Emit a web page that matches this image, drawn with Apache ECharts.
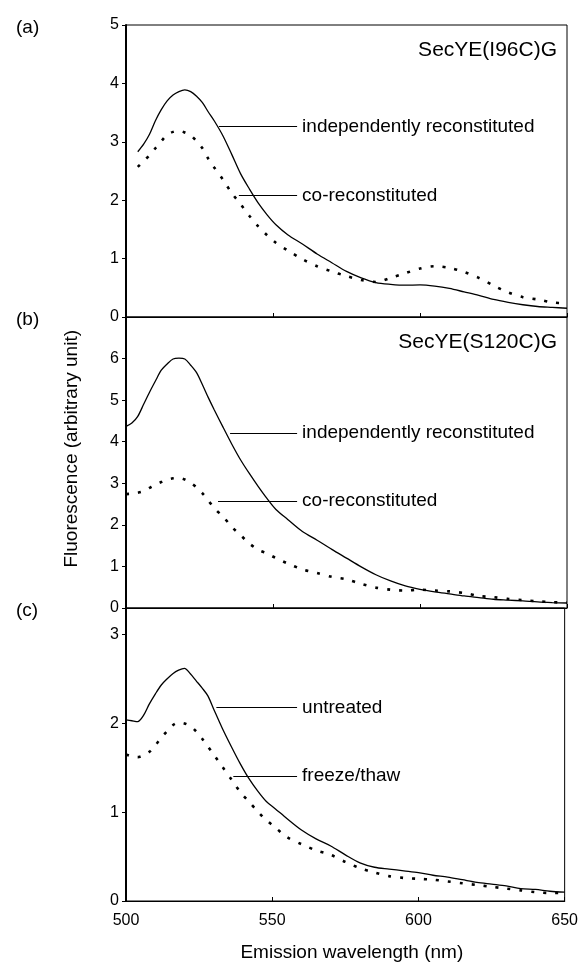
<!DOCTYPE html>
<html>
<head>
<meta charset="utf-8">
<script src="https://cdn.jsdelivr.net/npm/echarts@6/dist/echarts.min.js"></script>
<style>
  html, body { margin: 0; padding: 0; background: #fff; }
  #chart { width: 581px; height: 963px; }
</style>
</head>
<body>
<div id="chart"></div>
<script>
// emission wavelength (nm), shared by every trace
const wavelength = [500, 502, 504, 506, 508, 510, 512, 514, 516, 518, 520, 522, 524, 526, 528, 530,
  533, 536, 539, 542, 545, 548, 551, 555, 560, 565, 570, 575, 580, 585, 590, 595, 600, 605,
  610, 615, 620, 625, 630, 635, 640, 645, 650];

// (a) SecYE(I96C)G
const aIndependent = [null, null, 2.83, 2.96, 3.13, 3.36, 3.55, 3.70, 3.80, 3.86, 3.89, 3.86, 3.78, 3.67, 3.51, 3.36,
  3.10, 2.78, 2.45, 2.19, 1.95, 1.75, 1.58, 1.41, 1.25, 1.08, 0.93, 0.78, 0.67, 0.59, 0.56, 0.545, 0.55, 0.53,
  0.49, 0.43, 0.37, 0.30, 0.25, 0.21, 0.18, 0.165, 0.15];
const aCo = [null, null, 2.57, 2.67, 2.77, 2.89, 3.01, 3.12, 3.17, 3.19, 3.16, 3.11, 3.01, 2.89, 2.71, 2.56,
  2.35, 2.12, 1.93, 1.73, 1.55, 1.40, 1.27, 1.14, 0.99, 0.87, 0.78, 0.70, 0.635, 0.60, 0.67, 0.75, 0.83, 0.87,
  0.84, 0.77, 0.67, 0.54, 0.42, 0.34, 0.30, 0.25, 0.23];

// (b) SecYE(S120C)G
const bIndependent = [4.37, 4.45, 4.61, 4.90, 5.19, 5.46, 5.72, 5.87, 5.99, 6.01, 5.99, 5.84, 5.66, 5.37, 5.06, 4.77,
  4.35, 3.94, 3.56, 3.23, 2.92, 2.63, 2.37, 2.13, 1.84, 1.63, 1.41, 1.20, 0.99, 0.80, 0.65, 0.53, 0.45, 0.39,
  0.34, 0.29, 0.25, 0.21, 0.19, 0.17, 0.145, 0.13, 0.12];
const bCo = [2.74, 2.75, 2.77, 2.81, 2.89, 2.97, 3.03, 3.09, 3.12, 3.13, 3.09, 3.01, 2.90, 2.76, 2.59, 2.40,
  2.20, 1.95, 1.75, 1.55, 1.40, 1.31, 1.20, 1.07, 0.93, 0.84, 0.75, 0.69, 0.58, 0.49, 0.44, 0.42, 0.44, 0.42,
  0.40, 0.36, 0.29, 0.26, 0.22, 0.19, 0.16, 0.14, 0.13];

// (c) untreated vs freeze/thaw
const cUntreated = [2.04, 2.03, 2.02, 2.09, 2.22, 2.33, 2.43, 2.50, 2.56, 2.60, 2.62, 2.56, 2.48, 2.40, 2.31, 2.16,
  1.94, 1.74, 1.55, 1.38, 1.24, 1.12, 1.04, 0.93, 0.80, 0.70, 0.62, 0.52, 0.43, 0.38, 0.36, 0.34, 0.32, 0.29,
  0.27, 0.24, 0.21, 0.19, 0.17, 0.14, 0.13, 0.11, 0.10];
const cFreezeThaw = [1.65, 1.63, 1.62, 1.64, 1.68, 1.75, 1.84, 1.91, 1.98, 2.01, 2.00, 1.97, 1.91, 1.83, 1.74, 1.65,
  1.51, 1.37, 1.23, 1.12, 1.01, 0.91, 0.83, 0.72, 0.64, 0.57, 0.52, 0.44, 0.37, 0.32, 0.28, 0.26, 0.25, 0.24,
  0.22, 0.20, 0.18, 0.16, 0.14, 0.12, 0.10, 0.09, 0.09];

const panelLetters = ["(a)", "(b)", "(c)"];
const panelTitles = ["SecYE(I96C)G", "SecYE(S120C)G", ""];
const yMax = [5, 7, 3.3];
const xTitle = "Emission wavelength (nm)";
const yTitle = "Fluorescence (arbitrary unit)";

// leader lines: [label, y value, x start, x end]
const callouts = [
  [["independently reconstituted", 3.26, 531.6, 558.2], ["co-reconstituted", 2.08, 538.4, 558.2]],
  [["independently reconstituted", 4.21, 535.4, 558.2], ["co-reconstituted", 2.57, 531.3, 558.2]],
  [["untreated", 2.18, 530.9, 558.5], ["freeze/thaw", 1.41, 536.7, 558.5]]
];

const traces = [[aIndependent, aCo], [bIndependent, bCo], [cUntreated, cFreezeThaw]];

const FONT = "'Liberation Sans', Arial, sans-serif";
const gridTops = [25, 317, 608];
const gridHeights = [292, 291, 293];

function pairs(vals) {
  return wavelength.map((w, i) => [w, vals[i]]);
}

const grids = [], xAxes = [], yAxes = [], series = [], titles = [];

for (let p = 0; p < 3; p++) {
  grids.push({
    left: 126, right: 14, top: gridTops[p], height: gridHeights[p],
    show: true, borderColor: "#000", borderWidth: 1, backgroundColor: "transparent"
  });
  const last = p === 2;
  xAxes.push({
    type: "value", gridIndex: p, min: 500, max: 650, interval: 50,
    axisLine: { show: true, lineStyle: { color: "#000", width: 1.2 } },
    axisTick: { show: true, inside: true, length: 4, lineStyle: { color: "#000" } },
    axisLabel: { show: last, color: "#000", fontFamily: FONT, fontSize: 16, margin: 12 },
    splitLine: { show: false },
    name: last ? xTitle : "",
    nameLocation: "middle", nameGap: 42,
    nameTextStyle: { color: "#000", fontFamily: FONT, fontSize: 19, padding: [0, 0, 0, 13] }
  });
  yAxes.push({
    type: "value", gridIndex: p, min: 0, max: yMax[p], interval: 1,
    axisLine: { show: true, lineStyle: { color: "#000", width: 2 } },
    axisTick: { show: true, inside: false, length: 4, lineStyle: { color: "#000" } },
    axisLabel: { color: "#000", fontFamily: FONT, fontSize: 16, margin: 7, showMaxLabel: p === 0 },
    splitLine: { show: false }
  });

  const marks = callouts[p].map(c => [
    { coord: [c[2], c[1]], label: { formatter: c[0] } },
    { coord: [c[3], c[1]] }
  ]);

  series.push({
    type: "line", xAxisIndex: p, yAxisIndex: p, data: pairs(traces[p][0]),
    showSymbol: false, smooth: 0.3, animation: false,
    lineStyle: { color: "#000", width: 1.3, type: "solid" },
    markLine: {
      silent: true, animation: false, symbol: ["none", "none"],
      lineStyle: { color: "#000", width: 1, type: "solid" },
      label: { show: true, position: "end", distance: 5, color: "#000", fontFamily: FONT, fontSize: 19 },
      emphasis: { disabled: true },
      data: marks
    }
  });
  series.push({
    type: "line", xAxisIndex: p, yAxisIndex: p, data: pairs(traces[p][1]),
    showSymbol: false, smooth: 0.3, animation: false,
    lineStyle: { color: "#000", width: 2.6, type: [3, 9], cap: "butt" }
  });

  titles.push({
    text: panelLetters[p], left: 11, top: gridTops[p] - 12,
    textStyle: { color: "#000", fontFamily: FONT, fontSize: 19, fontWeight: "normal" }
  });
  if (panelTitles[p]) {
    titles.push({
      text: panelTitles[p], right: 19, top: gridTops[p] + 10,
      textStyle: { color: "#000", fontFamily: FONT, fontSize: 21, fontWeight: "normal" }
    });
  }
}

const chart = echarts.init(document.getElementById("chart"), null, { renderer: "canvas" });
chart.setOption({
  backgroundColor: "#fff",
  animation: false,
  title: titles,
  grid: grids,
  xAxis: xAxes,
  yAxis: yAxes,
  series: series,
  graphic: [{
    type: "text", left: 62, top: 330, rotation: Math.PI / 2,
    style: { text: yTitle, fill: "#000", font: "19px " + FONT }
  }]
});
</script>
</body>
</html>
